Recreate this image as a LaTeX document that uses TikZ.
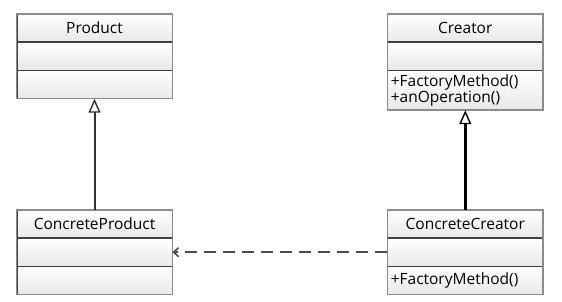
\documentclass[tikz,border=0pt]{standalone}
\usepackage{fontspec}
\setmainfont{Open Sans}
\usetikzlibrary{arrows.meta, positioning}

\begin{document}
\begin{tikzpicture}[
    x=1pt, y=1pt,
    part/.style={draw=black!75, line width=0.8pt, top color=white, bottom color=black!9,
                 minimum width=155pt, minimum height=27.5pt, inner sep=2pt,
                 font=\fontsize{15.5}{14}\selectfont},
    opspart/.style={part, align=left, text width=149pt, inner xsep=3pt},
    frame/.style={draw=black!45, line width=1.5pt},
    inherit/.style={-{Triangle[open, length=14pt, width=12pt, line width=1.4pt]}, line width=2pt},
    depend/.style={-{Straight Barb[length=5pt, width=9pt, line width=1.6pt]}, line width=2pt,
                   draw=black!70, dash pattern=on 12pt off 7pt}
]
    \useasboundingbox (0,0) rectangle (562,-302);

    % Product
    \node[part] (prod) at (94.5,-28) {Product};
    \node[part, below=0pt of prod] (prod-attr) {};
    \node[part, below=0pt of prod-attr] (prod-ops) {};

    % Creator
    \node[part, right=215pt of prod] (creator) {Creator};
    \node[part, below=0pt of creator] (creator-attr) {};
    \node[opspart, minimum height=39pt, below=0pt of creator-attr] (creator-ops)
        {+FactoryMethod()\\+anOperation()};

    % ConcreteProduct
    \node[part, below=111pt of prod-ops] (cprod) {ConcreteProduct};
    \node[part, below=0pt of cprod] (cprod-attr) {};
    \node[part, below=0pt of cprod-attr] (cprod-ops) {};

    % ConcreteCreator
    \node[part, right=215pt of cprod] (ccreator) {ConcreteCreator};
    \node[part, below=0pt of ccreator] (ccreator-attr) {};
    \node[opspart, below=0pt of ccreator-attr] (ccreator-ops) {+FactoryMethod()};

    % outer frames
    \foreach \top/\bot in {prod/prod-ops, creator/creator-ops, cprod/cprod-ops, ccreator/ccreator-ops}
        \draw[frame] (\top.north west) rectangle (\bot.south east);

    % Arrows
    \draw[inherit, draw=black!80] (cprod.north) -- (prod-ops.south);
    \draw[inherit, draw=black, line width=2.4pt] (ccreator.north) -- (creator-ops.south);
    \draw[depend] (ccreator-attr.west) -- (cprod-attr.east);
\end{tikzpicture}
\end{document}
